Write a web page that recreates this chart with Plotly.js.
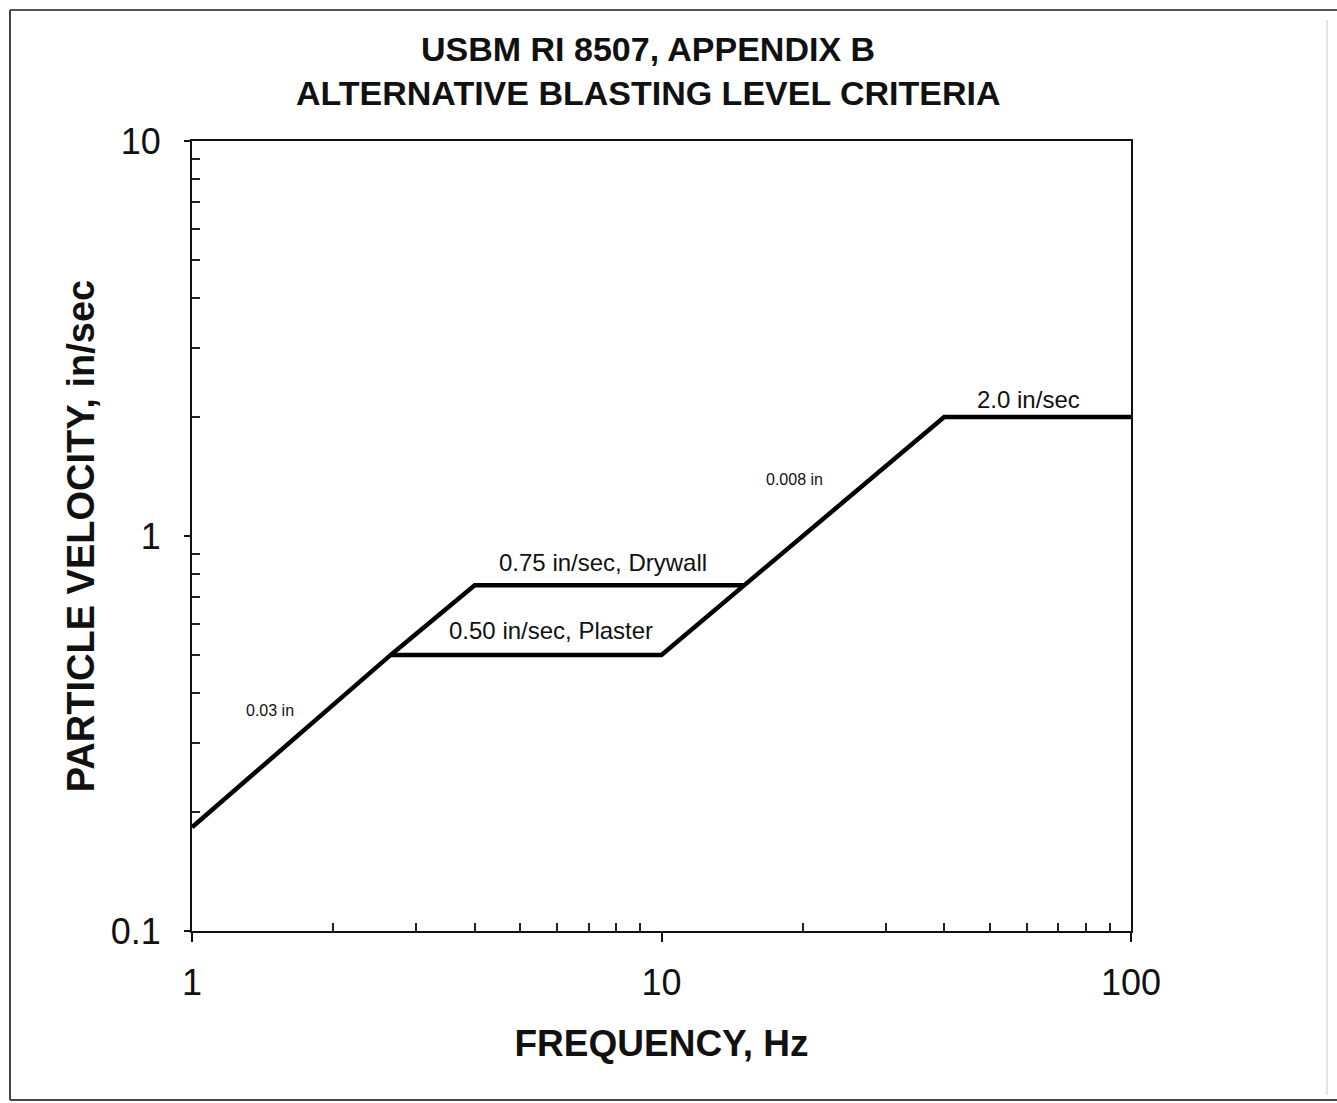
<!DOCTYPE html>
<html>
<head>
<meta charset="utf-8">
<script src="https://cdn.plot.ly/plotly-3.0.1.min.js"></script>
<style>html,body{margin:0;padding:0;background:#fff;}#chart{width:1337px;height:1103px;}</style>
</head>
<body>
<div id="chart"></div>
<script>
// Main criteria path: 0.03 in displacement -> 0.50 plaster -> 0.008 in displacement -> 2.0 in/sec
const mainFreq = [1, 2.65, 10, 15, 40, 100];
const mainVel  = [0.183, 0.5, 0.5, 0.75, 2.0, 2.0];
// Drywall branch: continues 0.03 in line to 0.75, then horizontal
const dryFreq = [2.65, 4.0, 15];
const dryVel  = [0.5, 0.75, 0.75];

const labelTexts = ["0.75 in/sec, Drywall", "0.50 in/sec, Plaster", "2.0 in/sec", "0.03 in", "0.008 in"];
const labelFreq  = [7.5, 5.82, 60.4, 1.466, 19.2];
const labelVel   = [0.855, 0.575, 2.22, 0.3625, 1.387];
const labelSize  = [24, 24, 24, 16, 16];

const titleLines = ["USBM RI 8507, APPENDIX B", "ALTERNATIVE BLASTING LEVEL CRITERIA"];

const xTickVals = [1, 10, 100];
const xTickText = ["1", "10", "100"];
const yTickVals = [0.1, 1, 10];
const yTickText = ["0.1", "1", "10"];

function minorLog(lo, hi) {
  const v = [];
  for (let d = lo; d < hi; d *= 10) for (let k = 2; k <= 9; k++) v.push(d * k);
  return v;
}

const FONT = "Liberation Sans, Arial, sans-serif";

const traces = [
  {x: mainFreq, y: mainVel, type: "scatter", mode: "lines", line: {color: "#000", width: 4.5}, hoverinfo: "skip"},
  {x: dryFreq, y: dryVel, type: "scatter", mode: "lines", line: {color: "#000", width: 4.5}, hoverinfo: "skip"}
];

const P = (px) => (px - 192) / 939;
const Q = (py) => (931 - py) / 790;

const annotations = labelTexts.map((t, i) => ({
  x: Math.log10(labelFreq[i]), y: Math.log10(labelVel[i]), xref: "x", yref: "y",
  text: t, showarrow: false, xanchor: "center", yanchor: "middle",
  font: {family: FONT, size: labelSize[i], color: "#111"}
}));
const titleY = [49, 93];
titleLines.forEach((t, i) => annotations.push({
  x: P(648), y: Q(titleY[i]), xref: "paper", yref: "paper",
  text: "<b>" + t + "</b>", showarrow: false, xanchor: "center", yanchor: "middle",
  font: {family: FONT, size: 34, color: "#111"}
}));

const shapes = [
  {type: "line", xref: "paper", yref: "paper", x0: P(10), x1: P(10), y0: Q(10), y1: Q(1100), line: {color: "#444", width: 2}},
  {type: "line", xref: "paper", yref: "paper", x0: P(10), x1: P(1337), y0: Q(10), y1: Q(10), line: {color: "#555", width: 2}},
  {type: "line", xref: "paper", yref: "paper", x0: P(10), x1: P(1337), y0: Q(1100), y1: Q(1100), line: {color: "#444", width: 2}},
  {type: "line", xref: "paper", yref: "paper", x0: P(1327), x1: P(1327), y0: Q(20), y1: Q(1095), line: {color: "#ddd", width: 1.5}}
];

const layout = {
  width: 1337, height: 1103,
  margin: {l: 192, r: 206, t: 141, b: 172},
  paper_bgcolor: "#fff", plot_bgcolor: "#fff",
  showlegend: false,
  xaxis: {
    type: "log", range: [0, 2],
    tickmode: "array", tickvals: xTickVals, ticktext: xTickText,
    ticks: "outside", ticklen: 9, tickwidth: 2, tickcolor: "#111",
    tickfont: {family: FONT, size: 36, color: "#111"},
    ticklabelstandoff: 10,
    showgrid: false, zeroline: false,
    showline: true, linewidth: 2, linecolor: "#111", mirror: true,
    minor: {tickmode: "array", tickvals: minorLog(1, 100), ticks: "inside", ticklen: 8, tickwidth: 2, tickcolor: "#222", showgrid: false},
    title: {text: "<b>FREQUENCY, Hz</b>", font: {family: FONT, size: 37, color: "#111"}, standoff: 28}
  },
  yaxis: {
    type: "log", range: [-1, 1],
    tickmode: "array", tickvals: yTickVals, ticktext: yTickText,
    ticks: "outside", ticklen: 6, tickwidth: 2, tickcolor: "#111",
    tickfont: {family: FONT, size: 36, color: "#111"},
    ticklabelstandoff: 16,
    showgrid: false, zeroline: false,
    showline: true, linewidth: 2, linecolor: "#111", mirror: true,
    minor: {tickmode: "array", tickvals: minorLog(0.1, 10), ticks: "inside", ticklen: 8, tickwidth: 2, tickcolor: "#222", showgrid: false},
    title: {text: "<b>PARTICLE VELOCITY, in/sec</b>", font: {family: FONT, size: 38, color: "#111"}, standoff: 4}
  },
  annotations: annotations,
  shapes: shapes
};

Plotly.newPlot("chart", traces, layout, {staticPlot: true, displayModeBar: false});
</script>
</body>
</html>
